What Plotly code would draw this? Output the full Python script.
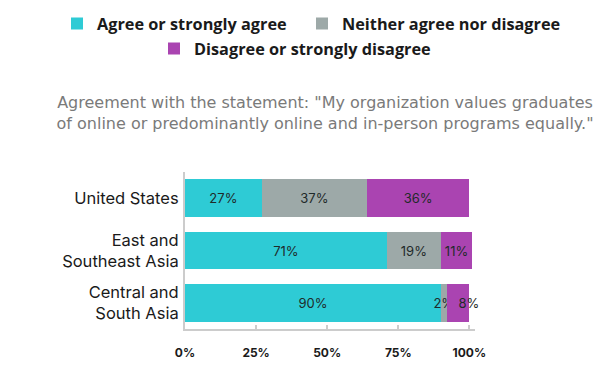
import plotly.graph_objects as go

categories = ["United States", "East and<br>Southeast Asia", "Central and<br>South Asia"]
agree = [27, 71, 90]
neither = [37, 19, 2]
disagree = [36, 11, 8]
series_names = ["Agree or strongly agree", "Neither agree nor disagree", "Disagree or strongly disagree"]
colors = ["#2ECBD5", "#9DA9A8", "#AA44B1"]
tick_vals = [0, 25, 50, 75, 100]
tick_text = ["0%", "25%", "50%", "75%", "100%"]
title_text = 'Agreement with the statement: "My organization values graduates<br>of online or predominantly online and in-person programs equally."'

W, H = 606, 360  # page body adds an 8px margin


def labels(vals, pad_small=False):
    out = []
    for v in vals:
        s = f"{v}%"
        if pad_small and v < 10:
            s = "\u00a0" * 6 + s
        out.append(s)
    return out


fig = go.Figure()
legend_ids = ["legend", "legend2", "legend3"]
for i, (name, vals, col, lg) in enumerate(zip(series_names, [agree, neither, disagree], colors, legend_ids)):
    fig.add_trace(go.Bar(
        y=categories, x=vals, name=name, orientation="h",
        marker=dict(color=col, line=dict(width=0)),
        text=labels(vals, pad_small=(i == 2)), textposition="inside",
        insidetextanchor="middle", textangle=0,
        textfont=dict(family="Inter", size=13, color="#1f2a2a"),
        cliponaxis=False, legend=lg,
    ))

legend_font = dict(family="Open Sans", size=16.3, color="#1a1a1a", weight="bold")
common = dict(orientation="h", xref="container", yref="container", xanchor="left",
              yanchor="middle", font=legend_font, bgcolor="rgba(0,0,0,0)")

fig.update_layout(
    width=W, height=H,
    barmode="stack", bargap=0.28,
    plot_bgcolor="white", paper_bgcolor="white",
    margin=dict(l=177, r=139, t=164, b=39, autoexpand=False),
    uniformtext=dict(minsize=13, mode="show"),
    title=dict(text=title_text, x=317 / W, xref="container", xanchor="center",
               y=1 - 100 / H, yref="container", yanchor="top",
               font=dict(family="DejaVu Sans", size=16, color="#7a7a7a")),
    legend=dict(x=49 / W, y=1 - 16 / H, **common),
    legend2=dict(x=294 / W, y=1 - 16 / H, **common),
    legend3=dict(x=146 / W, y=1 - 41 / H, **common),
    showlegend=True,
)
fig.update_xaxes(range=[0, 102], tickvals=tick_vals, ticktext=tick_text, automargin=False,
                 showgrid=False, zeroline=False, showline=True, linecolor="#cccccc", linewidth=2,
                 ticks="inside", ticklen=4, tickcolor="#cccccc", tickwidth=1.5,
                 ticklabelstandoff=12,
                 tickfont=dict(family="Inter", size=12, color="#1a1a1a", weight="bold"))
fig.update_yaxes(autorange="reversed", showgrid=False, zeroline=False, automargin=False,
                 showline=True, linecolor="#cccccc", linewidth=2, ticks="",
                 ticklabelstandoff=1,
                 tickfont=dict(family="Inter", size=16.5, color="#1a1a1a"))

fig.write_html("out.html")
